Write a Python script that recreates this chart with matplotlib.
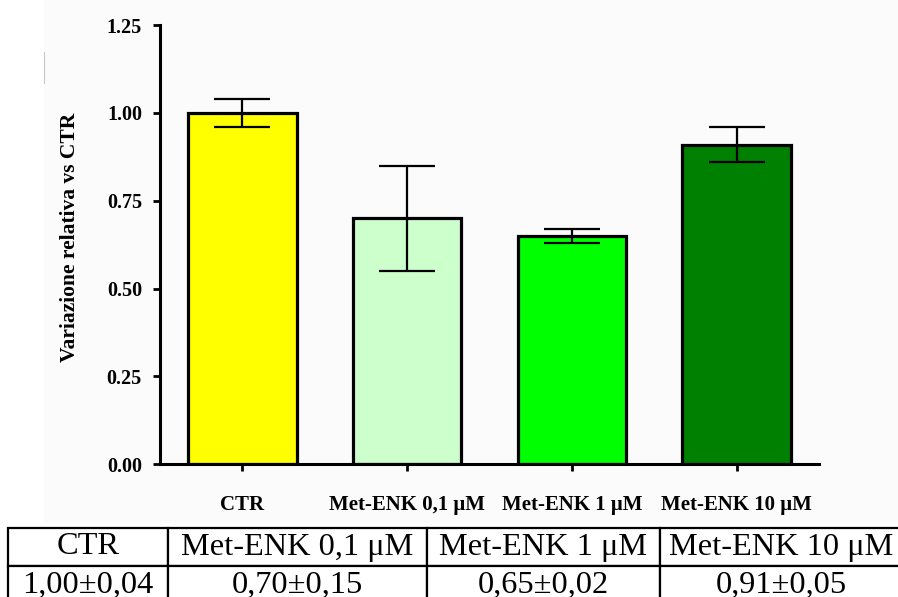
import matplotlib
matplotlib.use("Agg")
import matplotlib.pyplot as plt
from matplotlib.patches import Rectangle
from matplotlib.lines import Line2D

# Data: relative change vs control (mean ± SEM)
groups = ["CTR", "Met-ENK 0,1 μM", "Met-ENK 1 μM", "Met-ENK 10 μM"]
means = [1.00, 0.70, 0.65, 0.91]
errors = [0.04, 0.15, 0.02, 0.05]
bar_colors = ["#FFFF00", "#CCFFCC", "#00FF00", "#008000"]
y_ticks = [0.00, 0.25, 0.50, 0.75, 1.00, 1.25]

plt.rcParams["font.family"] = ["Liberation Serif", "DejaVu Serif"]

W, H = 898, 597
fig = plt.figure(figsize=(W / 100, H / 100), dpi=100)
fig.patch.set_facecolor("white")

# faint backdrop behind the plot panel
fig.patches.append(Rectangle((44 / W, 1 - 523 / H), 1, 523 / H,
                             transform=fig.transFigure, facecolor="#FBFBFB",
                             edgecolor="none", zorder=-10))
fig.lines.append(Line2D([44 / W, 44 / W], [1 - 52 / H, 1 - 83 / H],
                        transform=fig.transFigure, color="#C8C8C8", lw=0.8,
                        zorder=-5))

left, right = 160 / W, 819 / W
bottom, top = 1 - 464 / H, 1 - 25.25 / H
ax = fig.add_axes([left, bottom, right - left, top - bottom])
ax.set_zorder(2)
ax.patch.set_alpha(0)

x = list(range(len(groups)))
ax.bar(x, means, width=0.66, color=bar_colors, edgecolor="black",
       linewidth=2.3, zorder=2)
ax.errorbar(x, means, yerr=errors, fmt="none", ecolor="black",
            elinewidth=1.6, capsize=20, capthick=1.6, zorder=3)

ax.set_xlim(-0.5, 3.5)
ax.set_ylim(0, 1.25)
ax.set_yticks(y_ticks)
ax.set_yticklabels([f"{t:.2f}" for t in y_ticks], fontweight="bold", fontsize=14.5)
ax.set_xticks(x)
ax.set_xticklabels(groups, fontweight="bold", fontsize=15)
ax.tick_params(axis="y", length=5, width=2, pad=8)
ax.tick_params(axis="x", length=5, width=2, pad=17)

for side in ("top", "right"):
    ax.spines[side].set_visible(False)
for side in ("left", "bottom"):
    ax.spines[side].set_linewidth(2.2)

ax.set_ylabel("Variazione relativa vs CTR", fontweight="bold", fontsize=15.5)
ax.yaxis.set_label_coords(-0.122, 0.516)

# Summary table below the chart
tab_ax = fig.add_axes([8 / W, 1 - 604 / H, (902 - 8) / W, 76 / H])
tab_ax.set_zorder(3)
tab_ax.axis("off")
cells = [groups,
         [f"{m:.2f}±{e:.2f}".replace(".", ",") for m, e in zip(means, errors)]]
col_w = [160, 259, 233, 242]
tot = sum(col_w)
tbl = tab_ax.table(cellText=cells, cellLoc="center",
                   colWidths=[w / tot for w in col_w], bbox=[0, 0, 1, 1])
tbl.auto_set_font_size(False)
for (r, c), cell in tbl.get_celld().items():
    cell.set_linewidth(1.6)
    cell.set_edgecolor("black")
    cell.set_facecolor("white")
    cell.get_text().set_fontsize(23.3)
    cell.PAD = 0.02

fig.savefig("out.png", dpi=100)
